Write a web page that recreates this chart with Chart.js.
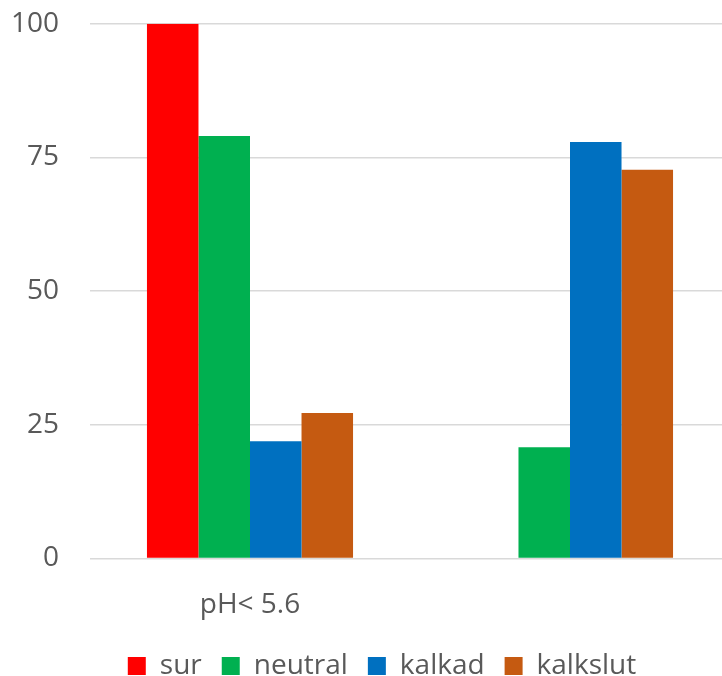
<!DOCTYPE html>
<html>
<head>
<meta charset="utf-8">
<script src="https://cdn.jsdelivr.net/npm/chart.js@4/dist/chart.umd.min.js"></script>
<style>
  html, body { margin: 0; padding: 0; background: #fff; overflow: hidden; }
  #wrap { position: relative; width: 730px; height: 676px; overflow: hidden; }
  #chart { position: absolute; left: 0; top: -24px; }
</style>
</head>
<body>
<div id="wrap"><canvas id="chart" width="730" height="726"></canvas></div>
<script>
const categories = ['pH< 5.6', ''];
const sur = [100, 0];
const neutral = [79, 20.8];
const kalkad = [21.9, 77.9];
const kalkslut = [27.2, 72.7];
const yTicks = [0, 25, 50, 75, 100];

const textColor = '#595959';
const fontFamily = '"Open Sans", sans-serif';

// nudge the legend a bit up and right, like the original
const legendNudge = {
    id: 'legendNudge',
    afterLayout(chart) {
        const lg = chart.legend;
        if (!lg) return;
        lg.top -= 12; lg.bottom -= 12;
        lg.left += 17; lg.right += 17;
    }
};

new Chart(document.getElementById('chart'), {
    type: 'bar',
    data: {
        labels: categories,
        datasets: [
            { label: 'sur', data: sur, backgroundColor: '#ff0000' },
            { label: 'neutral', data: neutral, backgroundColor: '#00b050' },
            { label: 'kalkad', data: kalkad, backgroundColor: '#0070c0' },
            { label: 'kalkslut', data: kalkslut, backgroundColor: '#c55a11' }
        ]
    },
    options: {
        responsive: false,
        animation: false,
        layout: { padding: 0 },
        datasets: {
            bar: { categoryPercentage: 0.644, barPercentage: 1.0, borderWidth: 0 }
        },
        scales: {
            x: {
                grid: { display: false },
                border: { display: false },
                ticks: { color: textColor, font: { family: fontFamily, size: 28 }, padding: 22 }
            },
            y: {
                min: 0,
                max: 100,
                afterBuildTicks: scale => { scale.ticks = yTicks.map(v => ({ value: v })); },
                afterFit: scale => { scale.width = 90; },
                grid: { color: '#d9d9d9', lineWidth: 1.5, drawTicks: false },
                border: { display: false },
                ticks: { color: textColor, font: { family: fontFamily, size: 28 }, padding: 31 }
            }
        },
        plugins: {
            legend: {
                position: 'bottom',
                labels: {
                    color: textColor,
                    font: { family: fontFamily, size: 28 },
                    boxWidth: 18,
                    boxHeight: 18,
                    padding: 20
                }
            },
            tooltip: { enabled: false }
        }
    },
    plugins: [legendNudge]
});
</script>
</body>
</html>
